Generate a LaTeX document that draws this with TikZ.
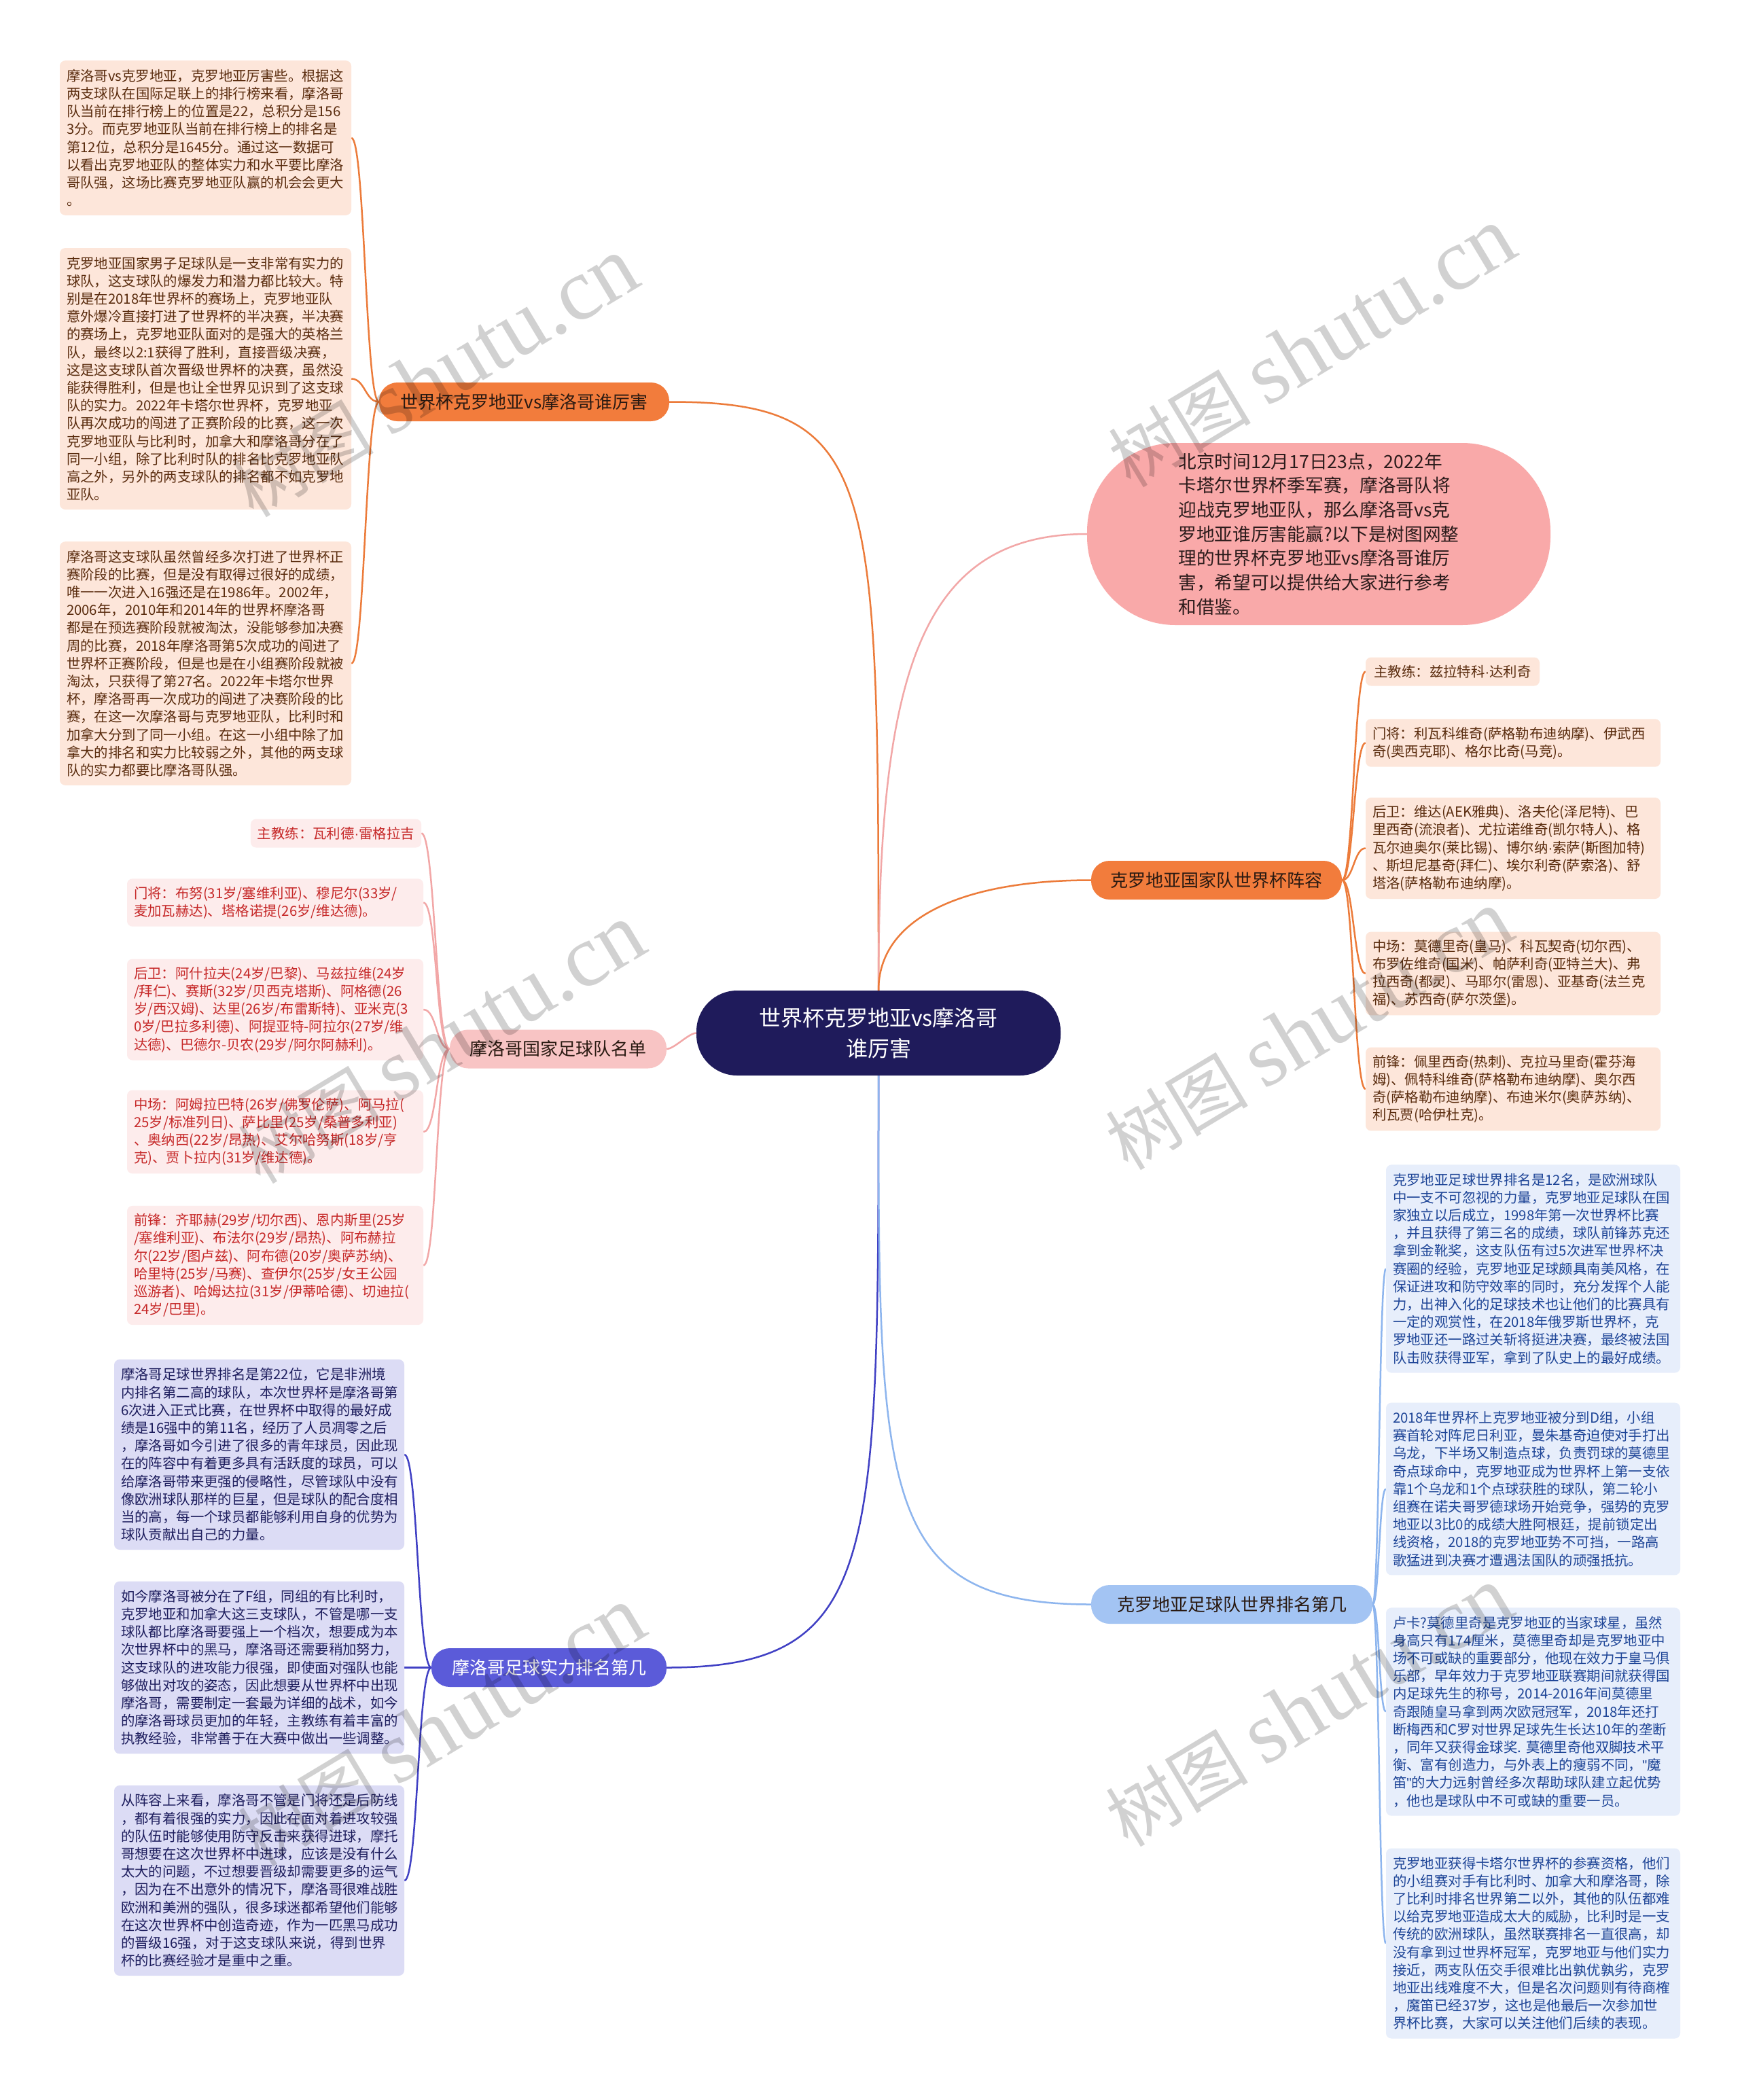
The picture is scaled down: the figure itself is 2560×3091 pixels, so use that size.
\documentclass[tikz,border=0pt]{standalone}
\usepackage{fontspec}
\setmainfont{Noto Sans CJK SC}
\newfontfamily\wmlatin{Liberation Serif}
\newfontfamily\latsans{Liberation Sans}
\usetikzlibrary{calc}
\setlength{\parindent}{0pt}
\newcommand\mdot{{\latsans ·}}
\newcommand\dq{{\latsans "}}
\definecolor{navy}{HTML}{1F1B5B}
\definecolor{orgB}{HTML}{F27C3C}
\definecolor{orgL}{HTML}{FDE6DA}
\definecolor{orgT}{HTML}{5A2C0E}
\definecolor{orgLine}{HTML}{EC7B3A}
\definecolor{pnkB}{HTML}{F8C4C4}
\definecolor{pnkL}{HTML}{FDECEC}
\definecolor{pnkT}{HTML}{C62828}
\definecolor{pnkLine}{HTML}{F2A7A7}
\definecolor{introF}{HTML}{F9A9A9}
\definecolor{introT}{HTML}{2B1B1B}
\definecolor{purB}{HTML}{5B5BD9}
\definecolor{purL}{HTML}{DCDCF5}
\definecolor{purT}{HTML}{1E1E5E}
\definecolor{purLine}{HTML}{4040C4}
\definecolor{bluB}{HTML}{A3C4F3}
\definecolor{bluL}{HTML}{E7EEFB}
\definecolor{bluT}{HTML}{1E4597}
\definecolor{bluLine}{HTML}{8DB5EE}
\definecolor{darkT}{HTML}{2A1A12}
\newcommand\leaffont{\fontsize{20.4pt}{26.2pt}\selectfont}
\newcommand\branchfont{\fontsize{26pt}{30pt}\selectfont}
\pgfdeclarelayer{bg}
\pgfsetlayers{bg,main}
\tikzset{
  leaf/.style={rounded corners=8pt, inner xsep=10pt, inner ysep=0pt, align=left, font=\leaffont, anchor=center},
  leafO/.style={leaf, fill=orgL, text=orgT},
  leafP/.style={leaf, fill=pnkL, text=pnkT},
  leafU/.style={leaf, fill=purL, text=purT},
  leafB/.style={leaf, fill=bluL, text=bluT},
  branch/.style={rounded corners=27pt, minimum height=57pt, inner xsep=0pt, inner ysep=0pt, font=\branchfont, anchor=center},
  conn/.style={line width=2.5pt},
  lcurve/.style={out=180, in=0, distance=#1},
  rcurve/.style={out=0, in=180, distance=#1},
  wmark/.style={rotate=31, text=black, text opacity=0.18, anchor=center, inner sep=0pt}
}
\begin{document}
\begin{tikzpicture}[x=1pt,y=-1pt]
\useasboundingbox (0,0) rectangle (2560,3091);
\begin{pgfonlayer}{bg}
\fill[white] (0,0) rectangle (2560,3091);
\end{pgfonlayer}

% central
\node[fill=navy, text=white, rounded corners=60pt, minimum width=536pt, minimum height=125pt, align=center, font=\fontsize{32pt}{45pt}\selectfont, anchor=center] (c) at (1293,1520.5) {世界杯克罗地亚vs摩洛哥\\谁厉害};

% intro
\node[fill=introF, text=introT, rounded corners=130pt, minimum width=682pt, minimum height=268pt, align=left, font=\fontsize{26.7pt}{35.7pt}\selectfont, anchor=center] (intro) at (1941,786) {北京时间12月17日23点，2022年\\卡塔尔世界杯季军赛，摩洛哥队将\\迎战克罗地亚队，那么摩洛哥vs克\\罗地亚谁厉害能赢?以下是树图网整\\理的世界杯克罗地亚vs摩洛哥谁厉\\害，希望可以提供给大家进行参考\\和借鉴。};

% branches
\node[branch, fill=orgB, text=darkT, minimum width=427pt] (b1) at (771.5,591.5) {世界杯克罗地亚vs摩洛哥谁厉害};
\node[branch, fill=pnkB, text=darkT, minimum width=319pt] (b2) at (821.5,1544) {摩洛哥国家足球队名单};
\node[branch, fill=purB, text=white, minimum width=346pt] (b3) at (808,2454.5) {摩洛哥足球实力排名第几};
\node[branch, fill=orgB, text=darkT, minimum width=369pt] (b4) at (1790.5,1295.5) {克罗地亚国家队世界杯阵容};
\node[branch, fill=bluB, text=darkT, minimum width=414pt] (b5) at (1813,2361.5) {克罗地亚足球队世界排名第几};

% branch 1 leaves
\node[leafO, minimum width=429pt, minimum height=227.6pt, text width=409pt] (l1) at (302.5,203) {摩洛哥vs克罗地亚，克罗地亚厉害些。根据这\\两支球队在国际足联上的排行榜来看，摩洛哥\\队当前在排行榜上的位置是22，总积分是156\\3分。而克罗地亚队当前在排行榜上的排名是\\第12位，总积分是1645分。通过这一数据可\\以看出克罗地亚队的整体实力和水平要比摩洛\\哥队强，这场比赛克罗地亚队赢的机会会更大\\。};
\node[leafO, minimum width=429pt, minimum height=384.8pt, text width=409pt] (l2) at (302.5,557.5) {克罗地亚国家男子足球队是一支非常有实力的\\球队，这支球队的爆发力和潜力都比较大。特\\别是在2018年世界杯的赛场上，克罗地亚队\\意外爆冷直接打进了世界杯的半决赛，半决赛\\的赛场上，克罗地亚队面对的是强大的英格兰\\队，最终以2:1获得了胜利，直接晋级决赛，\\这是这支球队首次晋级世界杯的决赛，虽然没\\能获得胜利，但是也让全世界见识到了这支球\\队的实力。2022年卡塔尔世界杯，克罗地亚\\队再次成功的闯进了正赛阶段的比赛，这一次\\克罗地亚队与比利时，加拿大和摩洛哥分在了\\同一小组，除了比利时队的排名比克罗地亚队\\高之外，另外的两支球队的排名都不如克罗地\\亚队。};
\node[leafO, minimum width=429pt, minimum height=358.6pt, text width=409pt] (l3) at (302.5,976.5) {摩洛哥这支球队虽然曾经多次打进了世界杯正\\赛阶段的比赛，但是没有取得过很好的成绩，\\唯一一次进入16强还是在1986年。2002年，\\2006年，2010年和2014年的世界杯摩洛哥\\都是在预选赛阶段就被淘汰，没能够参加决赛\\周的比赛，2018年摩洛哥第5次成功的闯进了\\世界杯正赛阶段，但是也是在小组赛阶段就被\\淘汰，只获得了第27名。2022年卡塔尔世界\\杯，摩洛哥再一次成功的闯进了决赛阶段的比\\赛，在这一次摩洛哥与克罗地亚队，比利时和\\加拿大分到了同一小组。在这一小组中除了加\\拿大的排名和实力比较弱之外，其他的两支球\\队的实力都要比摩洛哥队强。};

% Morocco roster
\node[leafP, minimum width=249pt, minimum height=42pt] (m0) at (494.5,1226.5) {主教练：瓦利德\mdot 雷格拉吉};
\node[leafP, minimum width=436pt, minimum height=70.4pt, text width=416pt] (m1) at (405,1328.5) {门将：布努(31岁/塞维利亚)、穆尼尔(33岁/\\麦加瓦赫达)、塔格诺提(26岁/维达德)。};
\node[leafP, minimum width=436pt, minimum height=149pt, text width=416pt] (m2) at (405,1486) {后卫：阿什拉夫(24岁/巴黎)、马兹拉维(24岁\\/拜仁)、赛斯(32岁/贝西克塔斯)、阿格德(26\\岁/西汉姆)、达里(26岁/布雷斯特)、亚米克(3\\0岁/巴拉多利德)、阿提亚特-阿拉尔(27岁/维\\达德)、巴德尔-贝农(29岁/阿尔阿赫利)。};
\node[leafP, minimum width=436pt, minimum height=122.8pt, text width=416pt] (m3) at (405,1666) {中场：阿姆拉巴特(26岁/佛罗伦萨)、阿马拉(\\25岁/标准列日)、萨比里(25岁/桑普多利亚)\\、奥纳西(22岁/昂热)、艾尔哈努斯(18岁/亨\\克)、贾卜拉内(31岁/维达德)。};
\node[leafP, minimum width=436pt, minimum height=175.2pt, text width=416pt] (m4) at (405,1862.5) {前锋：齐耶赫(29岁/切尔西)、恩内斯里(25岁\\/塞维利亚)、布法尔(29岁/昂热)、阿布赫拉\\尔(22岁/图卢兹)、阿布德(20岁/奥萨苏纳)、\\哈里特(25岁/马赛)、查伊尔(25岁/女王公园\\巡游者)、哈姆达拉(31岁/伊蒂哈德)、切迪拉(\\24岁/巴里)。};

% purple leaves
\node[leafU, minimum width=427pt, minimum height=280pt, text width=407pt] (p1) at (381.5,2141) {摩洛哥足球世界排名是第22位，它是非洲境\\内排名第二高的球队，本次世界杯是摩洛哥第\\6次进入正式比赛，在世界杯中取得的最好成\\绩是16强中的第11名，经历了人员凋零之后\\，摩洛哥如今引进了很多的青年球员，因此现\\在的阵容中有着更多具有活跃度的球员，可以\\给摩洛哥带来更强的侵略性，尽管球队中没有\\像欧洲球队那样的巨星，但是球队的配合度相\\当的高，每一个球员都能够利用自身的优势为\\球队贡献出自己的力量。};
\node[leafU, minimum width=427pt, minimum height=253.8pt, text width=407pt] (p2) at (381.5,2454.5) {如今摩洛哥被分在了F组，同组的有比利时，\\克罗地亚和加拿大这三支球队，不管是哪一支\\球队都比摩洛哥要强上一个档次，想要成为本\\次世界杯中的黑马，摩洛哥还需要稍加努力，\\这支球队的进攻能力很强，即使面对强队也能\\够做出对攻的姿态，因此想要从世界杯中出现\\摩洛哥，需要制定一套最为详细的战术，如今\\的摩洛哥球员更加的年轻，主教练有着丰富的\\执教经验，非常善于在大赛中做出一些调整。};
\node[leafU, minimum width=427pt, minimum height=280pt, text width=407pt] (p3) at (381.5,2768) {从阵容上来看，摩洛哥不管是门将还是后防线\\，都有着很强的实力，因此在面对着进攻较强\\的队伍时能够使用防守反击来获得进球，摩托\\哥想要在这次世界杯中进球，应该是没有什么\\太大的问题，不过想要晋级却需要更多的运气\\，因为在不出意外的情况下，摩洛哥很难战胜\\欧洲和美洲的强队，很多球迷都希望他们能够\\在这次世界杯中创造奇迹，作为一匹黑马成功\\的晋级16强，对于这支球队来说，得到世界\\杯的比赛经验才是重中之重。};

% Croatia roster
\node[leafO, minimum width=256pt, minimum height=42pt] (k0) at (2138,988.5) {主教练：兹拉特科\mdot 达利奇};
\node[leafO, minimum width=434pt, minimum height=70.4pt, text width=414pt] (k1) at (2227,1093.5) {门将：利瓦科维奇(萨格勒布迪纳摩)、伊武西\\奇(奥西克耶)、格尔比奇(马竞)。};
\node[leafO, minimum width=434pt, minimum height=149pt, text width=414pt] (k2) at (2227,1248.5) {后卫：维达(AEK雅典)、洛夫伦(泽尼特)、巴\\里西奇(流浪者)、尤拉诺维奇(凯尔特人)、格\\瓦尔迪奥尔(莱比锡)、博尔纳\mdot 索萨(斯图加特)\\、斯坦尼基奇(拜仁)、埃尔利奇(萨索洛)、舒\\塔洛(萨格勒布迪纳摩)。};
\node[leafO, minimum width=434pt, minimum height=122.8pt, text width=414pt] (k3) at (2227,1433) {中场：莫德里奇(皇马)、科瓦契奇(切尔西)、\\布罗佐维奇(国米)、帕萨利奇(亚特兰大)、弗\\拉西奇(都灵)、马耶尔(雷恩)、亚基奇(法兰克\\福)、苏西奇(萨尔茨堡)。};
\node[leafO, minimum width=434pt, minimum height=122.8pt, text width=414pt] (k4) at (2227,1603) {前锋：佩里西奇(热刺)、克拉马里奇(霍芬海\\姆)、佩特科维奇(萨格勒布迪纳摩)、奥尔西\\奇(萨格勒布迪纳摩)、布迪米尔(奥萨苏纳)、\\利瓦贾(哈伊杜克)。};

% blue leaves
\node[leafB, minimum width=433pt, minimum height=306.2pt, text width=413pt] (u1) at (2256.5,1867.5) {克罗地亚足球世界排名是12名，是欧洲球队\\中一支不可忽视的力量，克罗地亚足球队在国\\家独立以后成立，1998年第一次世界杯比赛\\，并且获得了第三名的成绩，球队前锋苏克还\\拿到金靴奖，这支队伍有过5次进军世界杯决\\赛圈的经验，克罗地亚足球颇具南美风格，在\\保证进攻和防守效率的同时，充分发挥个人能\\力，出神入化的足球技术也让他们的比赛具有\\一定的观赏性，在2018年俄罗斯世界杯，克\\罗地亚还一路过关斩将挺进决赛，最终被法国\\队击败获得亚军，拿到了队史上的最好成绩。};
\node[leafB, minimum width=433pt, minimum height=253.8pt, text width=413pt] (u2) at (2256.5,2191.5) {2018年世界杯上克罗地亚被分到D组，小组\\赛首轮对阵尼日利亚，曼朱基奇迫使对手打出\\乌龙，下半场又制造点球，负责罚球的莫德里\\奇点球命中，克罗地亚成为世界杯上第一支依\\靠1个乌龙和1个点球获胜的球队，第二轮小\\组赛在诺夫哥罗德球场开始竞争，强势的克罗\\地亚以3比0的成绩大胜阿根廷，提前锁定出\\线资格，2018的克罗地亚势不可挡，一路高\\歌猛进到决赛才遭遇法国队的顽强抵抗。};
\node[leafB, minimum width=433pt, minimum height=306.2pt, text width=413pt] (u3) at (2256.5,2519.5) {卢卡?莫德里奇是克罗地亚的当家球星，虽然\\身高只有174厘米，莫德里奇却是克罗地亚中\\场不可或缺的重要部分，他现在效力于皇马俱\\乐部，早年效力于克罗地亚联赛期间就获得国\\内足球先生的称号，2014-2016年间莫德里\\奇跟随皇马拿到两次欧冠冠军，2018年还打\\断梅西和C罗对世界足球先生长达10年的垄断\\，同年又获得金球奖.~莫德里奇他双脚技术平\\衡、富有创造力，与外表上的瘦弱不同，\dq 魔\\笛\dq 的大力远射曾经多次帮助球队建立起优势\\，他也是球队中不可或缺的重要一员。};
\node[leafB, minimum width=433pt, minimum height=280pt, text width=413pt] (u4) at (2256.5,2860.5) {克罗地亚获得卡塔尔世界杯的参赛资格，他们\\的小组赛对手有比利时、加拿大和摩洛哥，除\\了比利时排名世界第二以外，其他的队伍都难\\以给克罗地亚造成太大的威胁，比利时是一支\\传统的欧洲球队，虽然联赛排名一直很高，却\\没有拿到过世界杯冠军，克罗地亚与他们实力\\接近，两支队伍交手很难比出孰优孰劣，克罗\\地亚出线难度不大，但是名次问题则有待商榷\\，魔笛已经37岁，这也是他最后一次参加世\\界杯比赛，大家可以关注他们后续的表现。};

% connectors
\begin{pgfonlayer}{bg}
\draw[conn, orgLine] (c.north) to[out=90, in=0, out distance=758pt, in distance=308pt] (b1.east);
\draw[conn, pnkLine] (c.north) to[out=90, in=180, out distance=458pt, in distance=250pt] (intro.west);
\draw[conn, orgLine] (c.north) to[out=90, in=180, out distance=108pt, in distance=186pt] (b4.west);
\draw[conn, pnkLine] (c.west) to[lcurve=11pt] (b2.east);
\draw[conn, purLine] (c.south) to[out=-90, in=0, out distance=717pt, in distance=312pt] (b3.east);
\draw[conn, bluLine] (c.south) to[out=-90, in=180, out distance=617pt, in distance=313pt] (b5.west);
\foreach \n in {l1,l2,l3} \draw[conn, orgLine] (b1.west) to[lcurve=20pt] (\n.east);
\foreach \n in {m0,m1,m2,m3,m4} \draw[conn, pnkLine] (b2.west) to[lcurve=20pt] (\n.east);
\foreach \n in {p1,p2,p3} \draw[conn, purLine] (b3.west) to[lcurve=20pt] (\n.east);
\foreach \n in {k0,k1,k2,k3,k4} \draw[conn, orgLine] (b4.east) to[rcurve=17pt] (\n.west);
\foreach \n in {u1,u2,u3,u4} \draw[conn, bluLine] (b5.east) to[rcurve=10pt] (\n.west);
\end{pgfonlayer}

% watermarks
\foreach \i/\x/\y in {1/640/556, 2/1931/512, 3/650/1537, 4/1927/1517, 5/650/2542, 6/1927/2513}
  \node[wmark] (wm\i) at (\x,\y) {\fontsize{105pt}{105pt}\selectfont 树图 {\wmlatin\fontsize{130pt}{130pt}\selectfont shutu.cn}};
\end{tikzpicture}
\end{document}
